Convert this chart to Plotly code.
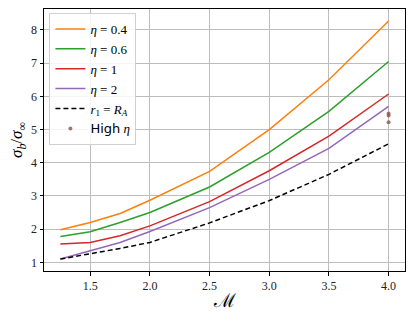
import plotly.graph_objects as go

mach = [1.25, 1.5, 1.75, 2.0, 2.5, 3.0, 3.5, 4.0]
eta_04 = [1.98, 2.20, 2.47, 2.87, 3.74, 5.00, 6.50, 8.27]
eta_06 = [1.78, 1.92, 2.20, 2.50, 3.27, 4.31, 5.55, 7.05]
eta_1 = [1.55, 1.60, 1.80, 2.10, 2.83, 3.76, 4.80, 6.07]
eta_2 = [1.10, 1.35, 1.60, 1.93, 2.65, 3.50, 4.43, 5.70]
r1_RA = [1.10, 1.25, 1.42, 1.60, 2.19, 2.86, 3.65, 4.57]
high_x = [4.0, 4.0, 4.0]
high_y = [5.48, 5.42, 5.22]

series = [
    ("<i>η</i> = 0.4", eta_04, "#ff7f0e"),
    ("<i>η</i> = 0.6", eta_06, "#2ca02c"),
    ("<i>η</i> = 1", eta_1, "#d62728"),
    ("<i>η</i> = 2", eta_2, "#9467bd"),
]

fig = go.Figure()
for name, ys, col in series:
    fig.add_trace(go.Scatter(x=mach, y=ys, mode="lines", name=name,
                             line=dict(color=col, width=1.5)))
fig.add_trace(go.Scatter(x=mach, y=r1_RA, mode="lines", name="<i>r</i><sub>1</sub> = <i>R<sub>A</sub></i>",
                         line=dict(color="black", width=1.5, dash="5px,3px")))
fig.add_trace(go.Scatter(x=high_x, y=high_y, mode="markers",
                         name="<span style='font-family:DejaVu Sans'>High</span> <i>η</i>",
                         marker=dict(color="#8c564b", size=4, opacity=0.8)))

serif = "Liberation Serif, Times New Roman, serif"
axis_common = dict(showgrid=True, gridcolor="#bdbdbd", gridwidth=1,
                   showline=True, linecolor="black", linewidth=1, mirror=True,
                   ticks="outside", ticklen=3.5, tickcolor="black",
                   tickfont=dict(family=serif, size=12, color="#222"), zeroline=False,
                   automargin=False)

fig.update_layout(
    width=407, height=303,
    margin=dict(l=36, r=10, t=1, b=40),
    plot_bgcolor="white", paper_bgcolor="white",
    font=dict(family=serif, color="black"),
    xaxis=dict(range=[1.1125, 4.1375], tickvals=[1.5, 2.0, 2.5, 3.0, 3.5, 4.0],
               ticktext=["1.5", "2.0", "2.5", "3.0", "3.5", "4.0"],
               **axis_common),
    yaxis=dict(range=[0.74, 8.63], tickvals=[1, 2, 3, 4, 5, 6, 7, 8],
               **axis_common),
    legend=dict(x=0.015, y=0.985, xanchor="left", yanchor="top",
                bgcolor="rgba(255,255,255,0.85)", bordercolor="#d0d0d0", borderwidth=1,
                font=dict(family=serif, size=13), tracegroupgap=0, itemwidth=30),
    showlegend=True,
    annotations=[
        dict(text="ℳ", xref="paper", yref="paper", x=0.5, y=0, yshift=-29,
             xanchor="center", yanchor="middle", showarrow=False,
             font=dict(family="DejaVu Serif", size=19)),
        dict(text="<i>σ<sub>b</sub></i>/<i>σ</i><sub>∞</sub>", xref="paper", yref="paper",
             x=0, y=0.5, xshift=-26, xanchor="center", yanchor="middle", textangle=-90,
             showarrow=False, font=dict(family=serif, size=17)),
    ],
)

fig.write_html("out.html")
